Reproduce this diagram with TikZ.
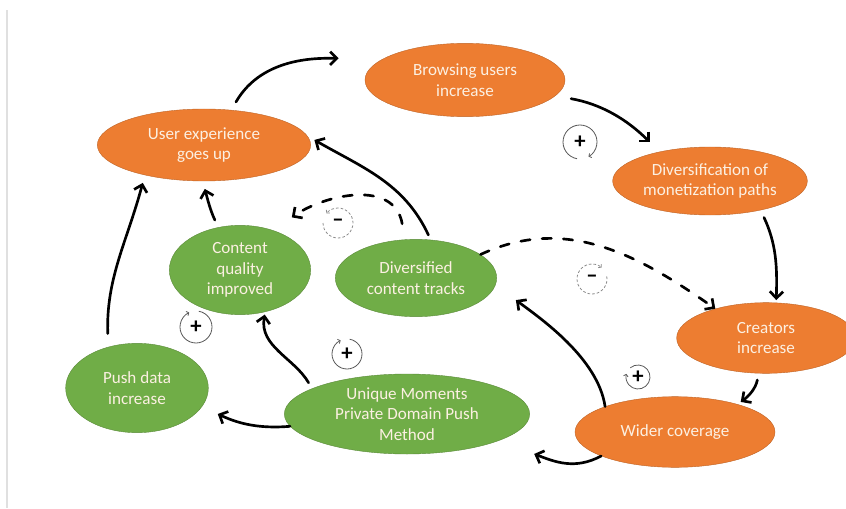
\documentclass[tikz,border=0pt]{standalone}
\usepackage{fontspec}
\setmainfont{Carlito}
\usetikzlibrary{shapes.geometric,arrows.meta}
\definecolor{boxorange}{RGB}{237,125,49}
\definecolor{boxgreen}{RGB}{112,173,71}
\definecolor{boxtext}{RGB}{252,240,226}

\begin{document}
\begin{tikzpicture}[
            x=0.75pt, y=0.75pt,
            orange node/.style={ellipse, fill=boxorange, draw=boxorange!80!black, line width=0.3pt, text=boxtext, align=center, inner sep=0pt, font=\fontsize{12.8}{15.6}\selectfont},
            green node/.style={orange node, fill=boxgreen, draw=boxgreen!80!black},
            flow/.style={line width=2pt, line cap=round, -{Straight Barb[length=5pt,width=10pt]}},
            dash flow/.style={flow, dash pattern=on 7pt off 9pt},
            loop sign/.style={inner sep=0pt, font=\fontsize{17}{17}\selectfont\bfseries},
            loop arc/.style={line width=0.6pt, black!65, -{Straight Barb[length=1.5pt,width=3.5pt]}},
            dash arc/.style={loop arc, black!45, dash pattern=on 2pt off 1.5pt},
            ]
            \useasboundingbox (0,0) rectangle (846,508);
            \draw[black!12, line width=0.8pt] (7,0) -- (7,498);
            
            \node[orange node, minimum width=150pt, minimum height=55pt] (browse) at (465,428) {Browsing users\\increase};
            \node[orange node, minimum width=160pt, minimum height=54pt] (ux) at (204,363) {User experience\\goes up};
            \node[orange node, minimum width=146pt, minimum height=51pt] (divmon) at (710,327) {Diversification of\\monetization paths};
            \node[green node, minimum width=106pt, minimum height=67pt] (quality) at (240,238) {Content\\quality\\improved};
            \node[green node, minimum width=121pt, minimum height=58pt] (tracks) at (416,230) {Diversified\\content tracks};
            \node[orange node, minimum width=134pt, minimum height=53pt] (creators) at (766,170) {Creators\\increase};
            \node[green node, minimum width=107pt, minimum height=67pt] (pushdata) at (137,120) {Push data\\increase};
            \node[green node, minimum width=184pt, minimum height=60pt] (unique) at (407,94) {Unique Moments\\Private Domain Push\\Method};
            \node[orange node, minimum width=150pt, minimum height=53pt] (wider) at (675,76) {Wider coverage};
            
            \draw[flow, shorten <=7pt, shorten >=34pt] (ux.52) to[out=60, in=180] (browse.165);
            \draw[flow, shorten <=12pt, shorten >=10pt] (browse.350) to[out=-10, in=135] (divmon.150);
            \draw[flow, shorten <=6pt, shorten >=2pt] (divmon.-30) to[out=-65, in=88] (creators.74);
            \draw[flow, shorten <=5pt, shorten >=3pt] (creators.258) to[out=-100, in=35] (wider.24);
            \draw[flow, shorten >=19pt] (wider.160) .. controls (598,150) and (540,190) .. (tracks.-5);
            \draw[flow, shorten >=28pt] (wider.198) .. controls (575,38) and (555,46) .. (unique.-16);
            \draw[flow, shorten >=13pt] (unique.186) to[out=185, in=-25] (pushdata.-16);
            \draw[flow, shorten <=5pt, shorten >=2pt] (unique.165) to[out=120, in=-100] (quality.-59);
            \draw[flow, shorten <=10pt, shorten >=6pt] (pushdata.125) to[out=92, in=-105] (ux.207);
            \draw[flow, shorten <=6pt, shorten >=6pt] (quality.117) to[out=115, in=-75] (ux.268);
            \draw[flow, shorten <=4pt, shorten >=6pt] (tracks.69) to[out=115, in=-30] (ux.5);
            \draw[dash flow, shorten <=12pt, shorten >=17pt] (tracks.106) to[out=100, in=35, looseness=1.2] (quality.50);
            \draw[dash flow] (tracks.20) to[out=25, in=145] (creators.150);
            
            % loop signs
            \node[loop sign] (loop1) at (580,366) {+};
            \draw[loop arc] (loop1.center) ++(260:17) arc[start angle=260, end angle=-60, radius=17];
            \node[loop sign] (loop2) at (196,181) {+};
            \draw[loop arc] (loop2.center) ++(80:16) arc[start angle=80, end angle=-245, radius=16];
            \node[loop sign] (loop3) at (347,154) {+};
            \draw[loop arc] (loop3.center) ++(80:15) arc[start angle=80, end angle=-245, radius=15];
            \node[loop sign] (loop4) at (638,131) {+};
            \draw[loop arc] (loop4.center) ++(130:12) arc[start angle=130, end angle=-195, radius=12];
            \node[loop sign] (loop5) at (338,285) {–};
            \draw[dash arc] (loop5.center) ++(-180:15) arc[start angle=-180, end angle=140, radius=15];
            \node[loop sign] (loop6) at (592,229) {–};
            \draw[dash arc] (loop6.center) ++(370:15) arc[start angle=370, end angle=50, radius=15];
        \end{tikzpicture}
\end{document}
